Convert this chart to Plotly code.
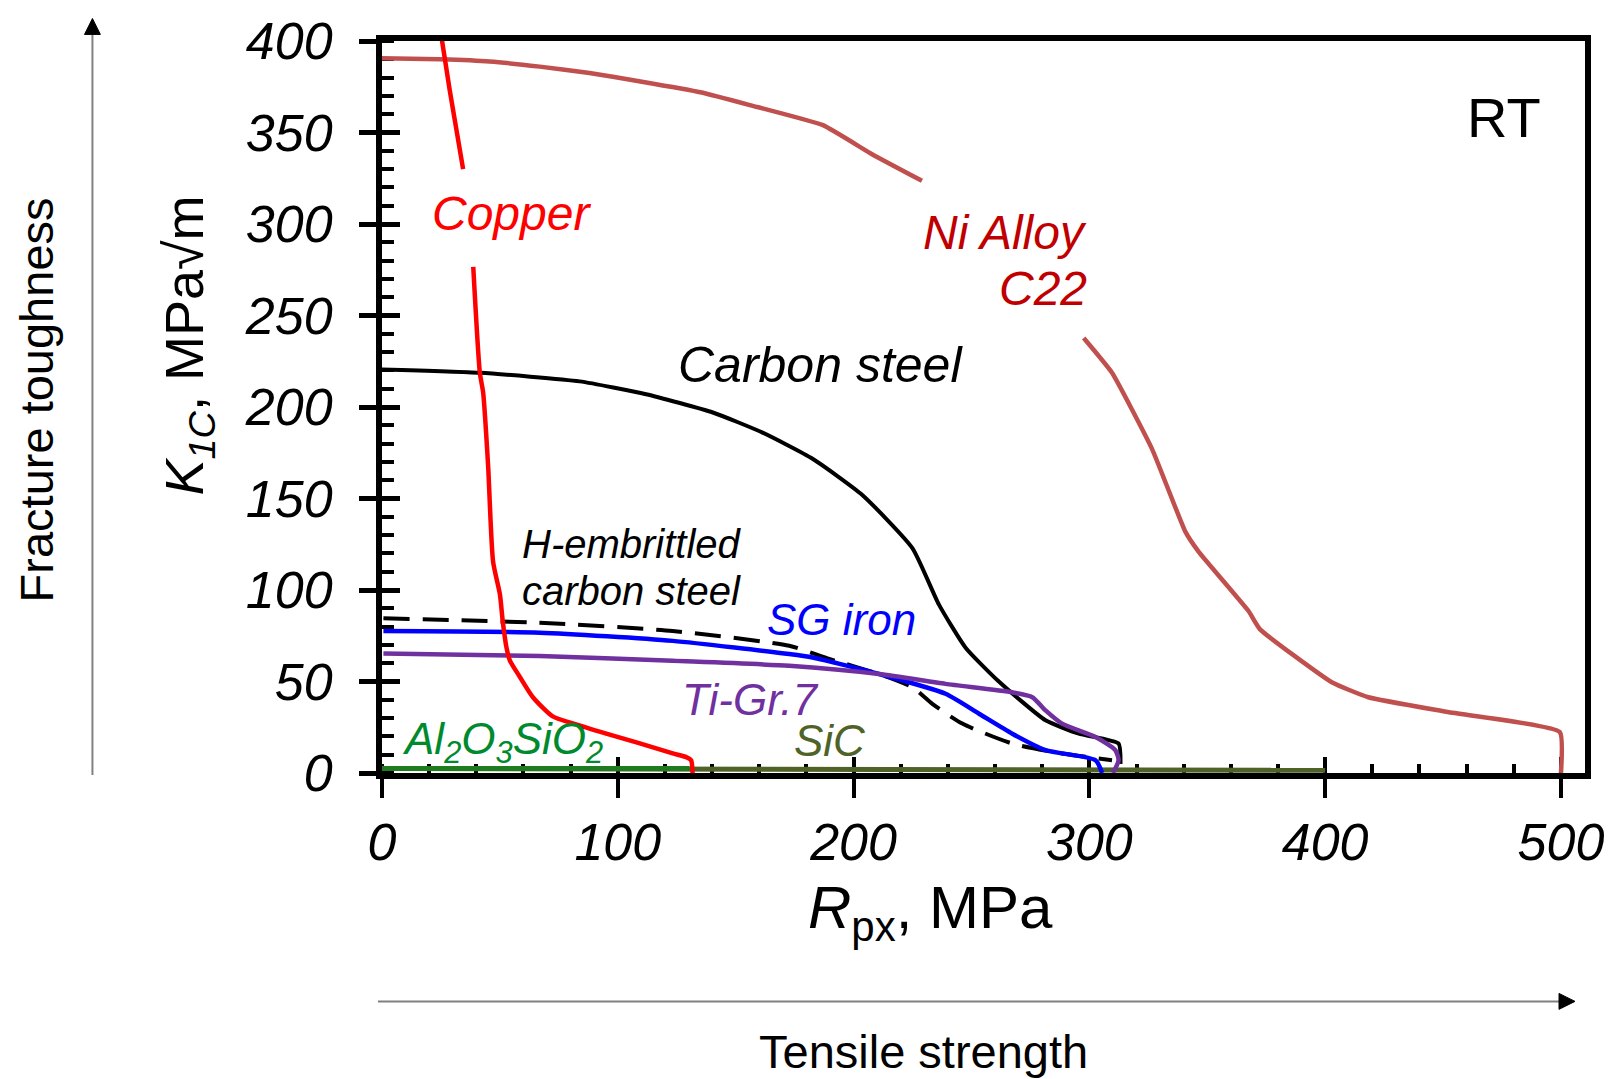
import plotly.graph_objects as go

# ---------------- data ----------------
# None marks where the reference curve is interrupted by its label
ni_x = [0, 24.6, 45.7, 66.9, 88, 109, 135, 156, 187, 208, 229, None, 297.6, 309.6, 326.6, 340.7, 346.3, 367.5, 372.4, 402.8, 418.3, 452, 499.5, 500]
ni_y = [390.6, 390, 388.8, 386, 382.5, 378, 372, 365, 354, 338, 323.6, None, 237.7, 218.7, 177, 131.9, 121, 88.5, 78.5, 49.6, 41.4, 33.3, 22.4, 0]

copper_x = [25.3, 28.8, 34.4, None, 38.7, 41.5, 42.9, 45.0, 47.1, 50.0, 51.2, 52.8, 54.2, 58.4, 64.0, 72.4, 80.9, 95.1, 109.0, 123.3, 129.0, 131.1, 131.7]
copper_y = [401.5, 372.5, 330, None, 276.6, 218.7, 207.9, 168, 115.6, 97.7, 83, 68.5, 61.6, 52.6, 41.4, 30.9, 27.1, 21.5, 16.3, 10.7, 8.7, 7, 0]

cs_x = [0, 41.5, 83.8, 112, 140.3, 161.4, 182.6, 203.8, 225, 236.2, 247.5, 261.6, 281.4, 295.5, 312.4, 313.2]
cs_y = [220.5, 218.7, 214, 207, 197, 186, 171.7, 151.8, 122.8, 92, 68.5, 50, 28.8, 21.5, 16.1, 5]

hcs_x = [0.6, 66.9, 123.3, 172.7, 189.7, 210.8, 225, 233.4, 246.1, 267.3, 288.4, 309.6]
hcs_y = [84.5, 82.1, 77.6, 69.5, 62.3, 54.1, 46.8, 37.8, 27, 16.1, 10.7, 7]

sg_x = [0.6, 66.9, 123.3, 172.7, 182.6, 210.8, 239, 253.2, 267.3, 281.4, 302.6, 305.4]
sg_y = [77.6, 76.7, 72.2, 65, 63.1, 54.1, 43.3, 32.4, 21.5, 12.5, 7, 0]

ti_x = [0.6, 66.9, 123.3, 172.7, 210.8, 239, 267.3, 275.8, 281.4, 288.4, 302.6, 311, 312.4, 310]
ti_y = [65.3, 64, 61.3, 58.6, 54.1, 48.7, 44.1, 41.4, 34.2, 27, 19.7, 12.5, 7, 0]

al_x = [0, 130.4]
al_y = [2.5, 2.5]

sic_x = [0, 400]
sic_y = [2.5, 1.5]

x_ticks = [0, 100, 200, 300, 400, 500]
y_ticks = [0, 50, 100, 150, 200, 250, 300, 350, 400]

FONT = "Liberation Sans, Arial, sans-serif"

fig = go.Figure()

def add_line(x, y, color, width, dash="solid", smooth=0.0):
    line = dict(color=color, width=width, dash=dash)
    if smooth > 0:
        line.update(shape="spline", smoothing=smooth)
    fig.add_trace(go.Scatter(x=x, y=y, mode="lines", connectgaps=False,
                             line=line, showlegend=False, hoverinfo="skip"))

add_line(sic_x, sic_y, "#4F6228", 5)
add_line(al_x, al_y, "#1E7B1E", 5)
add_line(ni_x, ni_y, "#C0504D", 4.5, smooth=0.4)
add_line(cs_x, cs_y, "#000000", 4, smooth=0.5)
add_line(hcs_x, hcs_y, "#000000", 4, dash="26px,13px", smooth=0.6)
add_line(sg_x, sg_y, "#0000FF", 4.5, smooth=0.6)
add_line(ti_x, ti_y, "#7030A0", 4.5, smooth=0.6)
add_line(copper_x, copper_y, "#FF0000", 4.5, smooth=0.6)

# overlay axes carrying the inside halves of the major ticks
fig.add_trace(go.Scatter(x=[None], y=[None], xaxis="x2", yaxis="y2",
                         showlegend=False, hoverinfo="skip"))

anns = []

def label(text, x, y, color, size, xanchor="center", italic=True):
    t = f"<i>{text}</i>" if italic else text
    anns.append(dict(text=t, x=x, y=y, xref="x", yref="y", showarrow=False,
                     xanchor=xanchor, yanchor="middle",
                     font=dict(family=FONT, size=size, color=color)))

label("RT", 476, 358, "#000000", 56, italic=False)
label("Copper", 55, 306, "#FF0000", 48)
label("Ni Alloy", 299.8, 295.2, "#C00000", 48, xanchor="right")
label("C22", 299.8, 264.6, "#C00000", 48, xanchor="right")
label("Carbon steel", 186, 223, "#000000", 50)
label("H-embrittled", 106, 125, "#000000", 40)
label("carbon steel", 106, 99.6, "#000000", 40)
label("SG iron", 195, 84, "#0000FF", 44)
label("Ti-Gr.7", 156, 40, "#7030A0", 44)
label("SiC", 190, 18, "#4F6228", 44)
label("Al<sub>2</sub>O<sub>3</sub>SiO<sub>2</sub>", 7.6, 17, "#008A2E", 44, xanchor="left")

# axis titles
anns.append(dict(text="<i>K</i><sub><i>1C</i></sub>, MPa√m", x=-0.1613, y=0.584,
                 xref="paper", yref="paper", showarrow=False, textangle=-90,
                 xanchor="center", yanchor="middle",
                 font=dict(family=FONT, size=54, color="black")))
anns.append(dict(text="<i>R</i><sub>px</sub>, MPa", x=0.456, y=-0.19,
                 xref="paper", yref="paper", showarrow=False,
                 xanchor="center", yanchor="middle",
                 font=dict(family=FONT, size=60, color="black")))
anns.append(dict(text="Fracture toughness", x=-0.287, y=0.510,
                 xref="paper", yref="paper", showarrow=False, textangle=-90,
                 xanchor="center", yanchor="middle",
                 font=dict(family=FONT, size=47, color="black")))
anns.append(dict(text="Tensile strength", x=0.4498, y=-0.380,
                 xref="paper", yref="paper", showarrow=False,
                 xanchor="center", yanchor="middle",
                 font=dict(family=FONT, size=47, color="black")))

# guide arrows outside the plot (gray shafts, black heads)
vx, vtip, vbase, vhw = -0.2407, 1.0307, 1.0090, 0.0066
hy, htip, hbase, hhw = -0.312, 0.9917, 0.9784, 0.0109
shapes = [
    dict(type="line", xref="paper", yref="paper", x0=vx, x1=vx,
         y0=-0.0027, y1=vbase, line=dict(color="#808080", width=2)),
    dict(type="line", xref="paper", yref="paper", x0=-0.0033, x1=hbase,
         y0=hy, y1=hy, line=dict(color="#808080", width=2)),
    dict(type="path", xref="paper", yref="paper",
         path=f"M {vx},{vtip} L {vx - vhw},{vbase} L {vx + vhw},{vbase} Z",
         fillcolor="black", line=dict(color="black", width=1)),
    dict(type="path", xref="paper", yref="paper",
         path=f"M {htip},{hy} L {hbase},{hy + hhw} L {hbase},{hy - hhw} Z",
         fillcolor="black", line=dict(color="black", width=1)),
]

fig.update_layout(
    width=1616, height=1079, autosize=False,
    margin=dict(l=382, r=29, t=36, b=306, pad=0),
    paper_bgcolor="white", plot_bgcolor="white",
    font=dict(family=FONT, color="black"),
    annotations=anns, shapes=shapes,
    xaxis=dict(range=[0, 510.2], showgrid=False, zeroline=False,
               showline=True, linecolor="black", linewidth=6, mirror=True,
               tickmode="array", tickvals=x_ticks, ticktext=[str(v) for v in x_ticks],
               ticks="outside", ticklen=19, tickwidth=4, tickcolor="black",
               tickfont=dict(family=FONT, size=52, color="black", style="italic"),
               ticklabelstandoff=0,
               minor=dict(ticks="inside", dtick=20, tick0=0, ticklen=9, tickwidth=4,
                          tickcolor="black", showgrid=False),
               layer="below traces"),
    yaxis=dict(range=[0, 400], showgrid=False, zeroline=False,
               showline=True, linecolor="black", linewidth=6, mirror=True,
               tickmode="array", tickvals=y_ticks, ticktext=[str(v) for v in y_ticks],
               ticks="outside", ticklen=17, tickwidth=5, tickcolor="black",
               tickfont=dict(family=FONT, size=52, color="black", style="italic"),
               ticklabelstandoff=16,
               minor=dict(ticks="inside", dtick=10, tick0=0, ticklen=12, tickwidth=4,
                          tickcolor="black", showgrid=False),
               layer="below traces"),
    xaxis2=dict(overlaying="x", matches="x", anchor="y2", side="bottom",
                showgrid=False, zeroline=False, showline=False,
                tickmode="array", tickvals=x_ticks, ticks="inside", ticklen=16,
                tickwidth=4, tickcolor="black", showticklabels=False,
                layer="below traces"),
    yaxis2=dict(overlaying="y", matches="y", anchor="x2", side="left",
                showgrid=False, zeroline=False, showline=False,
                tickmode="array", tickvals=y_ticks, ticks="inside", ticklen=18,
                tickwidth=5, tickcolor="black", showticklabels=False,
                layer="below traces"),
)

fig.write_html("out.html", config={"displayModeBar": False},
               post_script="document.body.style.margin='0';document.body.style.overflow='hidden';")
